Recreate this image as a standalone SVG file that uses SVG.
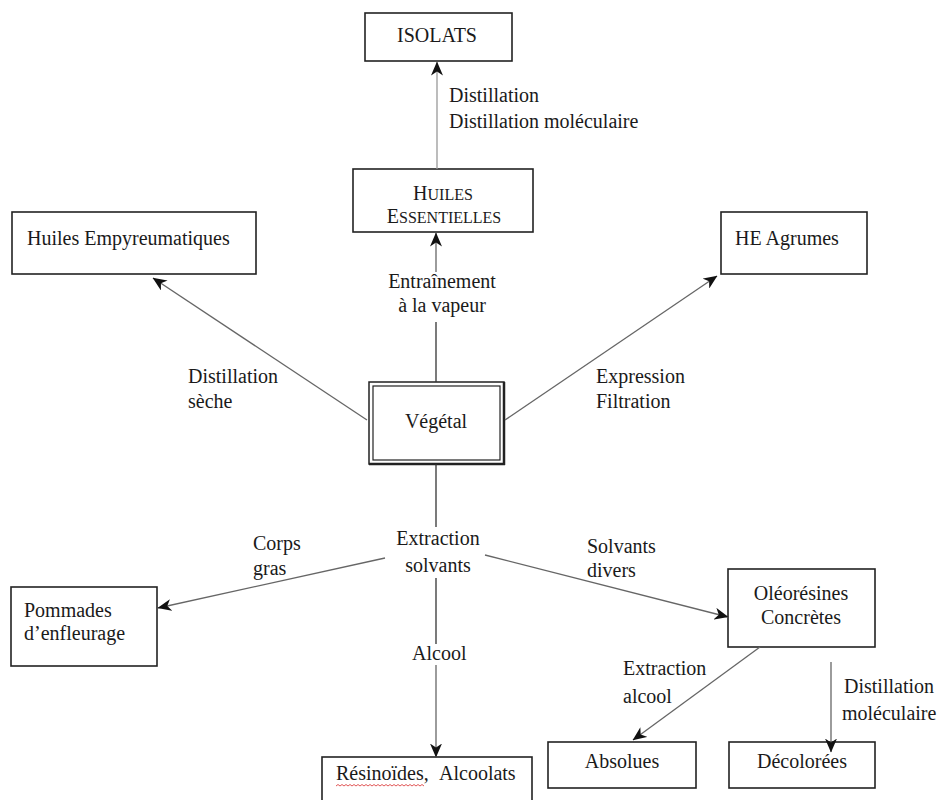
<svg xmlns="http://www.w3.org/2000/svg" width="941" height="800" viewBox="0 0 941 800">
<style>
  text { font-family: "Liberation Serif", "Times New Roman", serif; font-size: 20px; fill: #1a1a1a; }
  .box { fill: #ffffff; stroke: #222; stroke-width: 1.6; }
  .conn { fill: none; stroke: #666; stroke-width: 1.3; }
  .dark { stroke: #333; }
  .light { stroke: #999; }
  .mid { text-anchor: middle; }
</style>
<defs>
  <marker id="arr" viewBox="0 0 14 12" refX="13.5" refY="6" markerWidth="14" markerHeight="12" markerUnits="userSpaceOnUse" orient="auto">
    <path d="M0,0 L14,6 L0,12 L4,6 Z" fill="#111"/>
  </marker>
</defs>
<rect width="941" height="800" fill="#ffffff"/>

<g id="isolats">
  <rect class="box" x="365" y="13" width="147" height="48"/>
  <text class="mid" x="437" y="42">ISOLATS</text>
</g>

<g id="huiles-essentielles">
  <rect class="box" x="353" y="169" width="180" height="63"/>
  <text class="mid" x="443" y="200">H<tspan font-size="16">UILES</tspan></text>
  <text class="mid" x="444" y="223">E<tspan font-size="16">SSENTIELLES</tspan></text>
</g>

<g id="huiles-empyreumatiques">
  <rect class="box" x="12" y="212" width="244" height="62"/>
  <text x="27" y="245">Huiles Empyreumatiques</text>
</g>

<g id="he-agrumes">
  <rect class="box" x="721" y="212" width="146" height="62"/>
  <text x="735" y="245">HE Agrumes</text>
</g>

<g id="vegetal">
  <rect x="369" y="382" width="135" height="82" fill="#fff" stroke="#222" stroke-width="1.5"/>
  <rect x="373" y="386" width="127" height="74" fill="none" stroke="#222" stroke-width="1.2"/>
  <line x1="504" y1="382" x2="504" y2="465" stroke="#222" stroke-width="2.5"/>
  <line x1="369" y1="464" x2="505" y2="464" stroke="#222" stroke-width="2.5"/>
  <text class="mid" x="436" y="428">Végétal</text>
</g>

<g id="pommades">
  <rect class="box" x="11" y="587" width="146" height="79"/>
  <text x="24" y="617">Pommades</text>
  <text x="24" y="640">d’enfleurage</text>
</g>

<g id="oleoresines">
  <rect class="box" x="728" y="569" width="147" height="78"/>
  <text class="mid" x="801" y="600">Oléorésines</text>
  <text class="mid" x="801" y="624">Concrètes</text>
</g>

<g id="resinoides">
  <rect class="box" x="322" y="757" width="210" height="46"/>
  <text x="336" y="780">Résinoïdes,<tspan x="439">Alcoolats</tspan></text>
  <path d="M336,786 l2,-1.5 l2,1.5 l2,-1.5 l2,1.5 l2,-1.5 l2,1.5 l2,-1.5 l2,1.5 l2,-1.5 l2,1.5 l2,-1.5 l2,1.5 l2,-1.5 l2,1.5 l2,-1.5 l2,1.5 l2,-1.5 l2,1.5 l2,-1.5 l2,1.5 l2,-1.5 l2,1.5 l2,-1.5 l2,1.5 l2,-1.5 l2,1.5 l2,-1.5 l2,1.5 l2,-1.5 l2,1.5 l2,-1.5 l2,1.5 l2,-1.5 l2,1.5 l2,-1.5 l2,1.5 l2,-1.5 l2,1.5 l2,-1.5 l2,1.5 l2,-1.5 l2,1.5 l2,-1.5 l2,1.5" fill="none" stroke="#d44" stroke-width="0.9"/>
</g>

<g id="absolues">
  <rect class="box" x="548" y="742" width="148" height="46"/>
  <text class="mid" x="622" y="768">Absolues</text>
</g>

<g id="decolorees">
  <rect class="box" x="729" y="742" width="146" height="46"/>
  <text class="mid" x="802" y="768">Décolorées</text>
</g>

<g id="connectors">
  <line class="conn light" x1="437" y1="169" x2="437" y2="62" marker-end="url(#arr)"/>
  <line class="conn dark" x1="436" y1="382" x2="436" y2="322"/>
  <line class="conn" x1="436" y1="272" x2="436" y2="233" marker-end="url(#arr)"/>
  <line class="conn" x1="367" y1="420" x2="153" y2="278" marker-end="url(#arr)"/>
  <line class="conn" x1="505" y1="420" x2="717" y2="276" marker-end="url(#arr)"/>
  <line class="conn dark" x1="436" y1="464" x2="436" y2="527"/>
  <line class="conn dark" x1="436" y1="578" x2="436" y2="644"/>
  <line class="conn" x1="436" y1="665" x2="436" y2="757" marker-end="url(#arr)"/>
  <line class="conn" x1="385" y1="558" x2="158" y2="608" marker-end="url(#arr)"/>
  <line class="conn" x1="485" y1="555" x2="728" y2="617" marker-end="url(#arr)"/>
  <line class="conn" x1="760" y1="647" x2="633" y2="740" marker-end="url(#arr)"/>
  <line class="conn" x1="831" y1="662" x2="831" y2="752" marker-end="url(#arr)"/>

  <g id="labels">
    <text x="449" y="102">Distillation</text>
    <text x="449" y="128">Distillation moléculaire</text>
    <text class="mid" x="442" y="288">Entraînement</text>
    <text class="mid" x="442" y="312">à la vapeur</text>
    <text x="188" y="383">Distillation</text>
    <text x="188" y="408">sèche</text>
    <text x="596" y="383">Expression</text>
    <text x="596" y="408">Filtration</text>
    <text class="mid" x="438" y="545">Extraction</text>
    <text class="mid" x="438" y="572">solvants</text>
    <text x="253" y="550">Corps</text>
    <text x="253" y="575">gras</text>
    <text x="587" y="553">Solvants</text>
    <text x="587" y="577">divers</text>
    <text x="412" y="660">Alcool</text>
    <text x="623" y="675">Extraction</text>
    <text x="623" y="703">alcool</text>
    <text x="844" y="693">Distillation</text>
    <text x="842" y="720">moléculaire</text>
  </g>
</g>
</svg>
